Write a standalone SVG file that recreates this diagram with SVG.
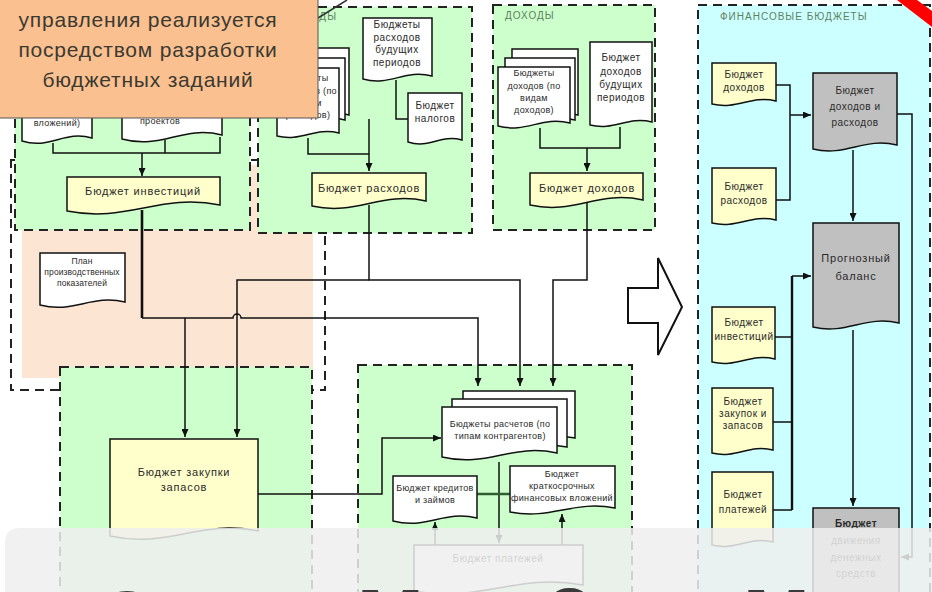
<svg xmlns="http://www.w3.org/2000/svg" width="932" height="592" viewBox="0 0 932 592">
<style>
.reg{stroke:#222;stroke-width:2;stroke-dasharray:9 6}
.g{fill:#CCFFCC}
.doc{stroke:#111;stroke-width:1.5}
.w{fill:#FFFFFF}
.y{fill:#FFFFCC}
.gr{fill:#C0C0C0}
.t{font-family:"Liberation Sans",Arial,sans-serif;fill:#2a2a2a;text-anchor:middle}
.m{font-size:11px;letter-spacing:0.8px}
.s{font-size:10px;letter-spacing:0.5px}
.xs{font-size:9px;letter-spacing:0.3px}
.xxs{font-size:8.5px;letter-spacing:0.1px}
.lab{font-family:"Liberation Sans",Arial,sans-serif;font-size:10px;letter-spacing:1px;fill:#5f7f5f}
.c{fill:none;stroke:#111;stroke-width:1.5}
.ct{font-family:"Liberation Sans",Arial,sans-serif;font-size:21px;letter-spacing:0.8px;fill:#3a3a30;text-anchor:middle}
.big{font-family:"Liberation Sans",Arial,sans-serif;font-weight:bold;font-size:80px;fill:#3a3a3a}
</style>
<defs>
<marker id="ah" markerWidth="8" markerHeight="7" refX="8" refY="3.5" orient="auto" markerUnits="userSpaceOnUse">
<path d="M0,0 L8,3.5 L0,7 z" fill="#111"/>
</marker>
</defs>
<rect x="0" y="0" width="932" height="592" fill="#FFFFFF"/>

<g id="regions">
<rect x="22" y="165" width="291" height="213" fill="#FCE5D3"/>
<rect x="11" y="160" width="314" height="230" fill="none" class="reg"/>
<rect id="reg-invest" x="15" y="7" width="235" height="223" class="reg g"/>
<rect id="reg-rash" x="258" y="7" width="214" height="226" class="reg g"/>
<rect id="reg-doh" x="493" y="5" width="162" height="225" class="reg g"/>
<rect id="reg-fin" x="698" y="5" width="232" height="600" class="reg" fill="#CCFFFF"/>
<rect id="reg-zak" x="60" y="367" width="252" height="240" class="reg g"/>
<rect id="reg-rasch" x="358" y="365" width="274" height="240" class="reg g"/>
<text class="lab" x="337" y="20" text-anchor="end">РАСХОДЫ</text>
<text class="lab" x="505" y="19">ДОХОДЫ</text>
<text class="lab" x="720" y="20" fill="#555">ФИНАНСОВЫЕ БЮДЖЕТЫ</text>
</g>

<g id="connectors">
<path class="c" d="M53,143 V153 H220 V137"/>
<path class="c" d="M165,140 V153"/>
<path class="c" d="M142,153 V176" marker-end="url(#ah)"/>
<path class="c" d="M142,210 V318" style="stroke-width:2.6"/>
<path class="c" d="M142,318 H233 a4,4 0 0 1 8,0 H478 V386" marker-end="url(#ah)"/>
<path class="c" d="M185,318 V437" marker-end="url(#ah)"/>
<path class="c" d="M369,205 V280 H520 V386" marker-end="url(#ah)"/>
<path class="c" d="M369,280 H237 V437" marker-end="url(#ah)"/>
<path class="c" d="M587,203 V280 H553 V386" marker-end="url(#ah)"/>
<path class="c" d="M258,494 H382 V438 H441" marker-end="url(#ah)"/>
<path class="c" d="M308,138 V154 H369"/>
<path class="c" d="M396,80 V119 H408"/>
<path class="c" d="M369,119 V171" marker-end="url(#ah)"/>
<path class="c" d="M540,128 V148 H620 V127"/>
<path class="c" d="M587,148 V171" marker-end="url(#ah)"/>
<path class="c" d="M499,462 V543" marker-end="url(#ah)"/>
<path class="c" d="M477,494 H510" style="stroke:#2f5f2f;stroke-width:2.5"/>
<path class="c" d="M435,545 V522" marker-end="url(#ah)"/>
<path class="c" d="M562,545 V514" marker-end="url(#ah)"/>
<path class="c" d="M776,85 H790 V200 H776"/>
<path class="c" d="M790,115 H811" marker-end="url(#ah)"/>
<path class="c" d="M897,114 H912 V557 H901" marker-end="url(#ah)"/>
<path class="c" d="M853,150 V221" marker-end="url(#ah)"/>
<path class="c" d="M853,330 V506" marker-end="url(#ah)"/>
<path class="c" d="M775,337 H792 M773,422 H792 M773,510 H792"/>
<path class="c" d="M792,510 V276" style="stroke-width:2.4"/>
<path class="c" d="M792,276 H811" marker-end="url(#ah)"/>
<polygon points="628,288 658,288 658,258 682,307 658,355 658,323 628,323" fill="#FFFFFF" stroke="#111" stroke-width="2"/>
</g>

<g id="n-inv-a"><path class="doc w" d="M22 50 H92 V138 C64 130 50 150 22 141 Z"/><text class="t xs" x="57" y="126">вложений)</text></g>
<g id="n-inv-b"><path class="doc w" d="M122 50 H222 V135 C182 125 162 150 122 139 Z"/><text class="t xs" x="160" y="124">проектов</text></g>
<g id="n-inv"><path class="doc y" d="M67 177 H220 V205 C158.8 193 128.2 223 67 211 Z"/><text class="t m" x="143" y="195">Бюджет инвестиций</text></g>

<g id="n-rash-stack">
<path class="doc w" d="M291 48 H349 V115 C325.8 109 314.2 124 291 117 Z"/>
<path class="doc w" d="M284 58 H345 V120 C320.6 114 308.4 129 284 122 Z"/>
<path class="doc w" d="M277 68 H339 V133 C314.2 127 301.8 142 277 136 Z"/>
<text class="t xs" x="308" y="81">Бюджеты</text><text class="t xs" x="308" y="94">расходов (по</text><text class="t xs" x="308" y="106">видам</text><text class="t xs" x="308" y="118">расходов)</text>
</g>
<g id="n-rash-bud"><path class="doc w" d="M363 18 H432 V76 C404.4 69 390.6 86.5 363 79 Z"/>
<text class="t s" x="397" y="28">Бюджеты</text><text class="t s" x="397" y="41">расходов</text><text class="t s" x="397" y="53">будущих</text><text class="t s" x="397" y="66">периодов</text></g>
<g id="n-nalog"><path class="doc w" d="M408 93 H462 V140 C440.4 134 429.6 149 408 142 Z"/>
<text class="t s" x="435" y="109">Бюджет</text><text class="t s" x="435" y="122">налогов</text></g>
<g id="n-rash"><path class="doc y" d="M312 173 H426 V201 C380.4 191 357.6 216 312 206 Z"/><text class="t m" x="369" y="192">Бюджет расходов</text></g>

<g id="n-doh-stack">
<path class="doc w" d="M512 49 H578 V115 C551.6 109 538.4 124 512 117 Z"/>
<path class="doc w" d="M505 58 H575 V120 C547 114 533 129 505 122 Z"/>
<path class="doc w" d="M498 67 H570 V123 C541.2 116 526.8 133.5 498 126 Z"/>
<text class="t xs" x="534" y="76">Бюджеты</text><text class="t xs" x="534" y="89">доходов (по</text><text class="t xs" x="534" y="101">видам</text><text class="t xs" x="534" y="113">доходов)</text>
</g>
<g id="n-doh-bud"><path class="doc w" d="M590 42 H652 V122 C627.2 116 614.8 131 590 125 Z"/>
<text class="t s" x="621" y="61">Бюджет</text><text class="t s" x="621" y="75">доходов</text><text class="t s" x="621" y="88">будущих</text><text class="t s" x="621" y="101">периодов</text></g>
<g id="n-doh"><path class="doc y" d="M530 173 H643 V200 C597.8 190 575.2 215 530 205 Z"/><text class="t m" x="587" y="192">Бюджет доходов</text></g>

<g id="n-plan"><path class="doc w" d="M40 253 H125 V302 C91 294 74 314 40 305 Z"/>
<text class="t xxs" x="82" y="264">План</text><text class="t xxs" x="82" y="275">производственных</text><text class="t xxs" x="82" y="286">показателей</text></g>

<g id="n-zak"><path class="doc y" d="M110 439 H258 V531 C198.8 519 169.2 549 110 536 Z"/>
<text class="t m" x="184" y="476">Бюджет закупки</text><text class="t m" x="184" y="491">запасов</text></g>

<g id="n-rasch">
<path class="doc w" d="M463 391 H575 V438 C530.2 430 507.8 450 463 441 Z"/>
<path class="doc w" d="M452 399 H567 V447 C521 439 498 459 452 450 Z"/>
<path class="doc w" d="M442 407 H557 V453 C511 443 488 468 442 457 Z"/>
<text class="t xs" x="500" y="427">Бюджеты расчетов (по</text><text class="t xs" x="500" y="439">типам контрагентов)</text>
</g>
<g id="n-kred"><path class="doc w" d="M393 476 H477 V518 C443.4 510 426.6 530 393 521 Z"/>
<text class="t xs" x="435" y="491">Бюджет кредитов</text><text class="t xs" x="435" y="503">и займов</text></g>
<g id="n-vlozh"><path class="doc w" d="M510 466 H615 V508 C573 500 552 520 510 512 Z"/>
<text class="t xs" x="562" y="477">Бюджет</text><text class="t xs" x="562" y="489">краткосрочных</text><text class="t xs" x="562" y="501">финансовых вложений</text></g>
<g id="n-plat"><path class="doc w" d="M414 545 H583 V585 C515.4 573 481.6 603 414 591 Z"/>
<text class="t s" x="498" y="562">Бюджет платежей</text></g>

<g id="n-f-doh"><path class="doc y" d="M712 63 H776 V101 C750.4 95 737.6 110 712 104 Z"/>
<text class="t s" x="744" y="78">Бюджет</text><text class="t s" x="744" y="91">доходов</text></g>
<g id="n-f-rash"><path class="doc y" d="M712 168 H776 V220 C750.4 214 737.6 229 712 223 Z"/>
<text class="t s" x="744" y="190">Бюджет</text><text class="t s" x="744" y="204">расходов</text></g>
<g id="n-f-dir"><path class="doc gr" d="M813 73 H897 V145 C863.4 137 846.6 157 813 149 Z"/>
<text class="t s" x="855" y="94">Бюджет</text><text class="t s" x="855" y="110">доходов и</text><text class="t s" x="855" y="126">расходов</text></g>
<g id="n-f-bal"><path class="doc gr" d="M813 223 H899 V323 C864.6 315 847.4 335 813 327 Z"/>
<text class="t m" x="856" y="262">Прогнозный</text><text class="t m" x="856" y="280">баланс</text></g>
<g id="n-f-inv"><path class="doc y" d="M712 307 H775 V359 C749.8 353 737.2 368 712 362 Z"/>
<text class="t s" x="744" y="326">Бюджет</text><text class="t s" x="744" y="340">инвестиций</text></g>
<g id="n-f-zak"><path class="doc y" d="M712 388 H773 V450 C748.6 444 736.4 459 712 453 Z"/>
<text class="t s" x="743" y="405">Бюджет</text><text class="t s" x="743" y="417">закупок и</text><text class="t s" x="743" y="429">запасов</text></g>
<g id="n-f-plat"><path class="doc y" d="M712 472 H773 V542 C748.6 536 736.4 551 712 545 Z"/>
<text class="t s" x="743" y="498">Бюджет</text><text class="t s" x="743" y="513">платежей</text></g>
<g id="n-f-dds"><path class="doc gr" d="M813 508 H899 V600 H813 Z"/>
<text class="t s" x="856" y="527" style="font-weight:bold">Бюджет</text><text class="t s" x="856" y="544">движения</text><text class="t s" x="856" y="561">денежных</text><text class="t s" x="856" y="577">средств</text></g>

<g id="callout">
<line x1="318" y1="18" x2="347" y2="0" stroke="#333" stroke-width="1.5"/>
<rect x="-2" y="-2" width="320" height="120" fill="#FAC090" stroke="#555" stroke-width="1"/>
<text class="ct" x="148" y="27">управления реализуется</text>
<text class="ct" x="148" y="57">посредством разработки</text>
<text class="ct" x="148" y="87">бюджетных заданий</text>
</g>

<g id="overlay">
<path d="M5,592 V543 Q5,528 20,528 H932 V592 Z" fill="#EEEEEE" fill-opacity="0.85"/>
<text class="big" x="96" y="647">О</text>
<text class="big" x="357" y="645">М</text>
<text class="big" x="545" y="631">о</text>
<text class="big" x="743" y="645">М</text>
</g>

<polygon points="897,0 917,0 932,11 932,27" fill="#FF0000"/>
</svg>
